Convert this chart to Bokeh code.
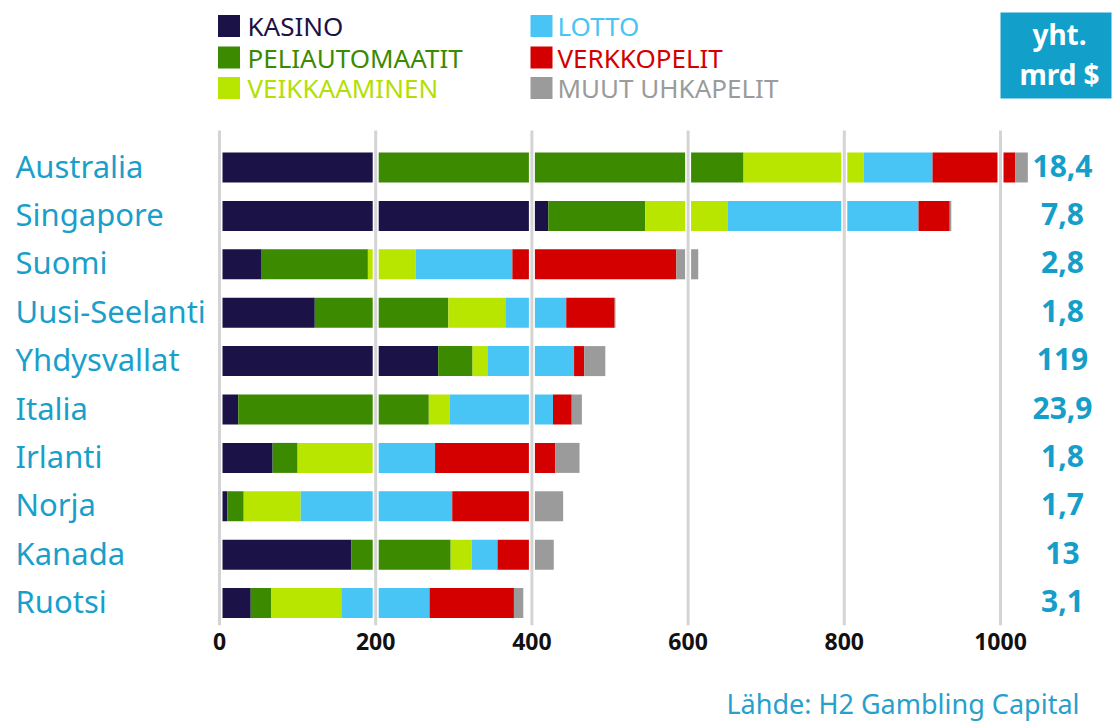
from bokeh.plotting import figure
from bokeh.models import ColumnDataSource, Range1d, FixedTicker
from bokeh.layouts import column
from bokeh.core.properties import value
from bokeh.embed import file_html
from bokeh.resources import INLINE

# ---------------- data ----------------
countries = ["Australia", "Singapore", "Suomi", "Uusi-Seelanti", "Yhdysvallat",
             "Italia", "Irlanti", "Norja", "Kanada", "Ruotsi"]
categories = ["kasino", "peliautomaatit", "veikkaaminen", "lotto", "verkkopelit", "muut"]
legend_labels = ["KASINO", "PELIAUTOMAATIT", "VEIKKAAMINEN", "LOTTO", "VERKKOPELIT", "MUUT UHKAPELIT"]
kasino         = [199, 421,  54, 122, 280,  24,  68,  10, 169,  40]
peliautomaatit = [472, 124, 136, 171,  44, 244,  32,  21, 127,  26]
veikkaaminen   = [154, 106,  61,  73,  19,  27,  98,  73,  27,  90]
lotto          = [ 88, 244, 124,  78, 111, 132,  78, 194,  33, 113]
verkkopelit    = [106,  40, 210,  62,  13,  24, 154, 100,  41, 108]
muut           = [ 16,   2,  28,   1,  27,  13,  31,  42,  31,  12]
totals = ["18,4", "7,8", "2,8", "1,8", "119", "23,9", "1,8", "1,7", "13", "3,1"]
x_ticks = [0, 200, 400, 600, 800, 1000]
source_text = "Lähde: H2 Gambling Capital"

colors = ["#1b1247", "#3c8a00", "#b8e600", "#48c5f4", "#d40000", "#9b9b9b"]
text_colors = ["#1b1247", "#3c8a00", "#b3e000", "#48c5f4", "#d40000", "#9b9b9b"]
BLUE = "#1a9fcb"

# ---------------- layout helpers (canvas pixels -> data) ----------------
W, H = 1116, 725
H_MAIN = 680
FRAME_H = 625
ZERO_PX = 219.0      # canvas x of value 0
PPU = 0.781          # pixels per unit
ROW0 = 167.0         # canvas y of first row centre
ROWPX = 48.4         # pixels per row


def X(px):
    return (px - ZERO_PX) / PPU


def Y(py):
    return (py - ROW0) / ROWPX


FONT = value("Noto Sans")

p = figure(width=W, height=H_MAIN, output_backend="svg", toolbar_location=None,
           x_range=Range1d(X(0), X(W)), y_range=Range1d(Y(FRAME_H), Y(0)),
           y_axis_location=None, x_axis_location="below",
           min_border_left=0, min_border_right=0, min_border_top=0,
           min_border_bottom=H_MAIN - FRAME_H)
p.outline_line_color = None
p.xgrid.visible = False
p.ygrid.visible = False
p.background_fill_color = "white"
p.border_fill_color = "white"

data = dict(y=list(range(len(countries))), country=countries, total=totals,
            kasino=kasino, peliautomaatit=peliautomaatit, veikkaaminen=veikkaaminen,
            lotto=lotto, verkkopelit=verkkopelit, muut=muut)
src = ColumnDataSource(data)

p.hbar_stack(categories, y="y", height=0.62, color=colors, line_color=None, source=src)

# grid lines drawn over the bars with a white halo
g_top, g_bot = Y(130), Y(FRAME_H)
p.segment(x0=x_ticks, y0=[g_top] * len(x_ticks), x1=x_ticks, y1=[g_bot] * len(x_ticks),
          line_color="white", line_width=6)
p.segment(x0=x_ticks, y0=[g_top] * len(x_ticks), x1=x_ticks, y1=[g_bot] * len(x_ticks),
          line_color="#d4d4d4", line_width=3)

# x axis
ax = p.xaxis[0]
ax.ticker = FixedTicker(ticks=x_ticks)
ax.axis_line_color = None
ax.major_tick_line_color = None
ax.minor_tick_line_color = None
ax.major_tick_out = 0
ax.major_tick_in = 0
ax.major_label_standoff = 7
ax.major_label_text_font = "Noto Sans"
ax.major_label_text_font_style = "bold"
ax.major_label_text_font_size = "23px"
ax.major_label_text_color = "#111111"

# country labels and totals
p.text(x=X(15), y="y", text="country", source=src, text_font=FONT,
       text_font_size="31px", text_color=BLUE, text_baseline="alphabetic",
       text_align="left", y_offset=-2)
p.text(x=X(1062), y="y", text="total", source=src, text_font=FONT,
       text_font_size="30px", text_font_style="bold", text_color="#149ec9",
       text_baseline="alphabetic", text_align="center", y_offset=-2)

# legend
leg_sq_x = [228.5, 541.0]
leg_txt_x = [247.0, 557.0]
leg_y = [25.5, 57.0, 87.5]
lx, ly, tx = [], [], []
for i in range(len(categories)):
    col, row = i // 3, i % 3
    lx.append(X(leg_sq_x[col]))
    tx.append(X(leg_txt_x[col]))
    ly.append(Y(leg_y[row]))
leg_src = ColumnDataSource(dict(x=lx, tx=tx, y=ly, c=colors, tc=text_colors, t=legend_labels))
p.rect(x="x", y="y", width=22, height=22, width_units="screen", height_units="screen",
       fill_color="c", line_color=None, source=leg_src)
p.text(x="tx", y="y", text="t", text_color="tc", source=leg_src, text_font=FONT,
       text_font_size="26px", text_baseline="middle", text_align="left")

# header box
p.quad(left=X(1000), right=X(1111), top=Y(12), bottom=Y(98), fill_color="#12a0ca", line_color=None)
p.text(x=[X(1059)] * 2, y=[Y(33), Y(73)], text=["yht.", "mrd $"], text_font=FONT,
       text_font_size="28px", text_font_style="bold", text_color="white",
       text_baseline="alphabetic", text_align="center")

# source strip below the chart (pixel-mapped)
H_SRC = H - H_MAIN
s = figure(width=W, height=H_SRC, output_backend="svg", toolbar_location=None,
           x_range=Range1d(0, W), y_range=Range1d(H_SRC, 0),
           x_axis_location=None, y_axis_location=None,
           min_border_left=0, min_border_right=0, min_border_top=0, min_border_bottom=0)
s.outline_line_color = None
s.xgrid.visible = False
s.ygrid.visible = False
s.text(x=[1079], y=[703 - H_MAIN], text=[source_text], text_font=FONT,
       text_font_size="27px", text_color="#27a0cc", text_baseline="middle",
       text_align="right")

layout = column(p, s, spacing=0)
open("out.html", "w").write(file_html(layout, INLINE))
